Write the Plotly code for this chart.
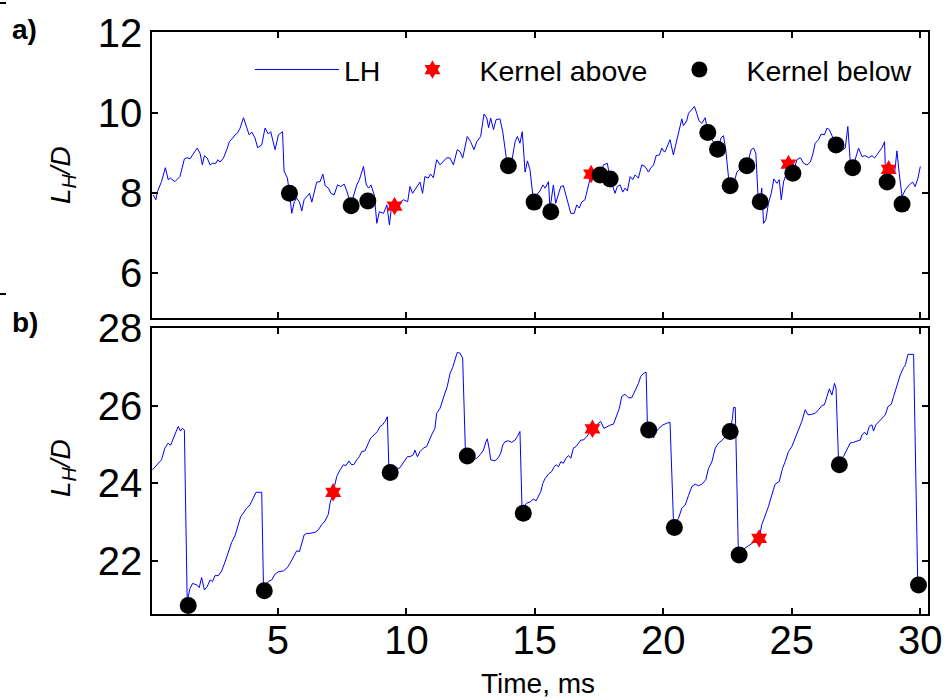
import plotly.graph_objects as go

# ---------------- data: panel a) ----------------
t_a = [0.15, 0.25, 0.31, 0.47, 0.62, 0.73, 0.82, 0.99, 1.19, 1.25, 1.36, 1.47, 1.58, 1.68, 1.86, 1.97,
       2.06, 2.14, 2.25, 2.36, 2.46, 2.59, 2.66, 2.75, 2.88, 3.01, 3.11, 3.24, 3.33, 3.42, 3.53, 3.66,
       3.76, 3.88, 3.98, 4.11, 4.21, 4.37, 4.50, 4.63, 4.72, 4.89, 5.02, 5.18, 5.24, 5.37, 5.45, 5.54,
       5.64, 5.73, 5.84, 5.93, 6.02, 6.12, 6.23, 6.32, 6.41, 6.51, 6.64, 6.75, 6.84, 6.97, 7.06, 7.19,
       7.32, 7.45, 7.58, 7.68, 7.84, 7.94, 8.07, 8.17, 8.33, 8.44, 8.53, 8.62, 8.75, 8.85, 8.95, 9.11,
       9.24, 9.34, 9.43, 9.54, 9.70, 9.89, 10.05, 10.14, 10.24, 10.33, 10.43, 10.53, 10.63, 10.72, 10.85,
       10.94, 11.05, 11.18, 11.31, 11.44, 11.57, 11.70, 11.83, 11.98, 12.09, 12.19, 12.28, 12.37, 12.50,
       12.63, 12.74, 12.89, 13.02, 13.13, 13.20, 13.28, 13.39, 13.49, 13.64, 13.75, 13.88, 13.97, 14.10,
       14.23, 14.32, 14.42, 14.51, 14.62, 14.71, 14.81, 14.92, 15.07, 15.20, 15.31, 15.40, 15.53, 15.59,
       15.72, 15.81, 15.92, 16.01, 16.11, 16.21, 16.31, 16.40, 16.53, 16.63, 16.73, 16.82, 16.95, 17.08,
       17.19, 17.28, 17.54, 17.67, 17.82, 17.90, 18.03, 18.12, 18.21, 18.32, 18.42, 18.51, 18.60, 18.71,
       18.81, 18.90, 19.03, 19.16, 19.29, 19.42, 19.51, 19.62, 19.72, 19.85, 19.94, 20.03, 20.07, 20.26,
       20.39, 20.49, 20.59, 20.72, 20.78, 20.91, 20.98, 21.11, 21.21, 21.30, 21.39, 21.50, 21.63, 21.73,
       21.86, 22.11, 22.25, 22.34, 22.43, 22.54, 22.60, 22.73, 22.86, 22.95, 23.25, 23.42, 23.51, 23.60,
       23.68, 23.77, 23.83, 23.90, 23.99, 24.09, 24.20, 24.30, 24.42, 24.51, 24.59, 24.68, 24.77, 24.87,
       25.04, 25.20, 25.33, 25.46, 25.59, 25.72, 25.81, 25.91, 26.04, 26.14, 26.27, 26.37, 26.46, 26.72,
       26.98, 27.08, 27.18, 27.27, 27.37, 27.49, 27.60, 27.73, 27.86, 27.99, 28.12, 28.22, 28.38, 28.51,
       28.61, 28.64, 28.77, 28.90, 29.00, 29.09, 29.18, 29.29, 29.42, 29.57, 29.70, 29.80, 29.91, 30.00]
lh_a = [7.95, 7.83, 8.03, 8.28, 8.63, 8.33, 8.37, 8.28, 8.41, 8.55, 8.85, 8.88, 8.85, 8.95, 9.12, 8.99,
        8.70, 8.93, 8.87, 8.70, 8.74, 8.74, 8.83, 8.77, 8.87, 9.08, 9.28, 9.37, 9.45, 9.49, 9.62, 9.88,
        9.66, 9.45, 9.52, 9.37, 9.13, 9.20, 9.62, 9.47, 9.53, 9.08, 9.45, 9.53, 8.55, 8.37, 7.99, 7.49,
        7.78, 7.87, 7.77, 7.55, 7.83, 7.91, 7.99, 7.77, 7.99, 8.27, 8.28, 8.47, 8.18, 8.12, 7.99, 7.95,
        8.20, 8.16, 8.22, 8.05, 7.70, 7.95, 8.20, 8.33, 8.66, 8.20, 8.12, 8.20, 7.95, 7.24, 7.53, 7.49,
        7.70, 7.20, 7.70, 7.67, 7.74, 7.83, 7.78, 8.16, 7.99, 8.08, 8.20, 8.27, 7.99, 8.41, 8.37,
        8.47, 8.38, 8.83, 8.70, 8.80, 8.88, 8.87, 8.70, 9.08, 9.03, 8.87, 9.16, 9.41, 9.28,
        9.08, 9.28, 9.41, 9.97, 9.87, 9.63, 9.87, 9.58, 9.83, 9.85, 9.53, 8.91, 8.68, 8.78,
        9.28, 9.41, 9.24, 9.53, 8.52, 8.80, 8.58, 7.95, 7.95, 8.05, 8.20, 8.12, 8.28, 7.60,
        8.20, 7.74, 7.99, 8.16, 8.18, 7.95, 7.70, 7.49, 7.49, 7.70, 7.62, 7.77, 7.83, 8.16,
        8.47, 8.49, 8.45, 8.70, 8.74, 8.45, 8.20, 7.99, 8.16, 8.20, 8.02, 8.12, 8.05, 8.41,
        8.33, 8.45, 8.37, 8.70, 8.66, 8.52, 8.62, 8.70, 8.93, 8.95, 9.12, 9.03, 9.03, 9.33,
        8.95, 9.20, 9.45, 9.85, 9.68, 9.80, 9.99, 10.08, 10.16, 9.99, 9.80, 9.74, 9.88, 9.51,
        9.37, 9.09, 9.38, 9.43, 9.08, 8.37, 8.18, 8.20, 8.52, 8.58, 8.68, 9.08, 9.12, 8.99,
        7.99, 7.78, 8.12, 7.24, 7.33, 7.74, 7.99, 8.35, 8.24, 8.33, 7.83, 8.28, 8.45, 8.72,
        8.49, 8.83, 8.88, 8.74, 8.70, 8.77, 8.95, 9.24, 9.33, 9.47, 9.45, 9.62, 9.58, 9.20,
        9.08, 9.12, 9.66, 8.83, 8.63, 8.91, 9.12, 8.91, 8.93, 8.88, 8.93, 8.87, 9.03, 9.13,
        9.28, 8.58, 8.59, 8.49, 8.49, 9.05, 8.49, 7.91, 8.08, 8.20, 8.27, 8.16, 8.37, 8.66]

above_t_a = [9.54, 17.19, 24.87, 28.77]
above_v_a = [7.67, 8.47, 8.72, 8.59]
below_t_a = [5.45, 7.85, 8.50, 13.97, 14.97, 15.62, 17.54, 17.93, 21.73, 22.11, 22.60, 23.25, 23.77,
             25.04, 26.72, 27.37, 28.71, 29.29]
below_v_a = [7.99, 7.68, 7.80, 8.68, 7.77, 7.53, 8.45, 8.35, 9.51, 9.09, 8.18, 8.68, 7.78,
             8.49, 9.20, 8.63, 8.27, 7.72]

# ---------------- data: panel b) ----------------
t_b = [0.12, 0.28, 0.47, 0.60, 0.73, 0.82, 0.93, 1.03, 1.12, 1.21, 1.28, 1.36, 1.47, 1.58, 1.68, 1.84,
       1.94, 2.03, 2.14, 2.25, 2.36, 2.46, 2.55, 2.68, 2.81, 2.94, 3.07, 3.20, 3.33, 3.46, 3.55, 3.65,
       3.78, 3.91, 4.04, 4.15, 4.37, 4.44, 4.63, 4.76, 4.89, 5.02, 5.21, 5.37, 5.50, 5.63, 5.73, 5.84,
       5.93, 6.02, 6.12, 6.25, 6.45, 6.57, 6.70, 6.83, 6.96, 7.03, 7.15, 7.22, 7.29, 7.42, 7.55, 7.65,
       7.76, 7.87, 7.96, 8.07, 8.17, 8.26, 8.39, 8.52, 8.61, 8.74, 8.87, 8.98, 9.07, 9.17, 9.26, 9.32,
       9.56, 9.73, 9.89, 10.04, 10.14, 10.27, 10.33, 10.43, 10.53, 10.66, 10.79, 10.89, 10.98, 11.11,
       11.18, 11.31, 11.40, 11.50, 11.59, 11.70, 11.80, 11.89, 11.98, 12.09, 12.19, 12.30, 12.45, 12.61,
       12.74, 12.87, 13.00, 13.10, 13.15, 13.23, 13.28, 13.45, 13.58, 13.67, 13.75, 13.84, 13.97, 14.10,
       14.23, 14.32, 14.42, 14.50, 14.68, 14.84, 14.94, 15.05, 15.14, 15.23, 15.31, 15.40, 15.53, 15.66,
       15.75, 15.83, 15.92, 16.01, 16.11, 16.21, 16.31, 16.40, 16.50, 16.60, 16.70, 16.79, 16.89, 17.02,
       17.24, 17.41, 17.56, 17.69, 17.82, 17.95, 18.06, 18.12, 18.21, 18.29, 18.38, 18.51, 18.64, 18.77,
       18.90, 19.03, 19.12, 19.23, 19.33, 19.38, 19.62, 19.68, 19.81, 19.98, 20.13, 20.26, 20.40, 20.59,
       20.72, 20.85, 20.98, 21.11, 21.24, 21.37, 21.50, 21.65, 21.76, 21.89, 22.02, 22.15, 22.30, 22.47,
       22.60, 22.69, 22.73, 22.80, 22.92, 23.73, 23.83, 23.96, 24.09, 24.22, 24.35, 24.51, 24.64, 24.74,
       24.87, 25.00, 25.13, 25.26, 25.39, 25.52, 25.63, 25.76, 25.91, 26.04, 26.17, 26.27, 26.37, 26.46,
       26.56, 26.66, 26.72, 26.82, 27.01, 27.14, 27.27, 27.40, 27.53, 27.66, 27.73, 27.83, 27.92, 28.01,
       28.12, 28.18, 28.27, 28.40, 28.51, 28.64, 28.74, 28.87, 28.96, 29.09, 29.22, 29.35, 29.42, 29.52,
       29.74, 29.90]
lh_b = [24.34, 24.47, 24.60, 24.90, 25.03, 24.97, 25.16, 25.28, 25.46, 25.34, 25.41, 25.37, 20.95, 21.28,
        21.41, 21.37, 21.30, 21.56, 21.24, 21.33, 21.50, 21.46, 21.61, 21.61, 21.73, 21.96, 22.23, 22.47,
        22.64, 22.92, 23.13, 23.22, 23.35, 23.43, 23.61, 23.76, 23.76, 21.25, 21.46, 21.50, 21.65, 21.71,
        21.73, 21.82, 21.96, 22.14, 22.25, 22.23, 22.42, 22.66, 22.70, 22.70, 22.73, 22.79, 22.92, 23.02,
        23.19, 23.48, 23.76, 23.95, 24.17, 24.34, 24.47, 24.45, 24.57, 24.47, 24.48, 24.60, 24.68, 24.81,
        24.83, 25.03, 25.16, 25.24, 25.33, 25.46, 25.50, 25.59, 25.71, 24.35, 24.38, 24.38, 24.55, 24.68,
        24.68, 24.73, 24.85, 24.68, 24.81, 24.90, 24.94, 25.11, 25.24, 25.41, 25.80, 25.93, 26.14, 26.32,
        26.49, 26.83, 26.98, 27.18, 27.37, 27.35, 27.22, 24.75, 24.62, 24.60, 24.64, 24.73, 24.85, 25.07,
        25.14, 24.85, 24.60, 24.57, 24.66, 24.77, 24.98, 25.07, 25.09, 25.05, 25.11, 25.20, 25.33, 23.35,
        23.48, 23.52, 23.59, 23.54, 23.65, 23.78, 23.99, 24.12, 24.23, 24.30, 24.42, 24.47, 24.42, 24.55,
        24.51, 24.64, 24.71, 24.64, 24.90, 24.94, 25.03, 25.11, 25.11, 25.20, 25.40, 25.50, 25.59, 25.41,
        25.46, 25.50, 25.52, 25.63, 25.76, 25.93, 26.23, 26.29, 26.20, 26.20, 26.38, 26.57, 26.75, 26.83,
        26.86, 25.50, 25.16, 25.28, 25.40, 25.50, 25.54, 25.57, 22.90, 23.09, 23.35, 23.43, 23.68, 23.91,
        23.97, 23.93, 23.97, 24.08, 24.38, 24.55, 24.90, 25.03, 25.11, 25.24, 25.37, 25.67, 25.95, 25.95,
        22.20, 22.57, 22.92, 23.13, 23.39, 23.69, 23.97, 24.04, 24.38, 24.55, 24.81, 24.94, 25.16, 25.33,
        25.59, 25.89, 25.76, 25.77, 25.80, 25.89, 26.00, 26.02, 26.23, 26.43, 26.27, 26.57, 26.45, 24.55,
        24.68, 24.85, 25.03, 25.05, 25.09, 25.11, 25.24, 25.31, 25.24, 25.46, 25.50, 25.34, 25.50, 25.59,
        25.69, 25.76, 25.97, 26.03, 26.23, 26.53, 26.79, 26.98, 27.05, 27.32, 27.32, 21.45]

above_t_b = [7.15, 17.24, 23.73]
above_v_b = [23.76, 25.40, 22.57]
below_t_b = [1.51, 4.47, 9.37, 12.37, 14.55, 19.43, 20.43, 22.60, 22.95, 26.85, 29.93]
below_v_b = [20.84, 21.22, 24.27, 24.70, 23.22, 25.37, 22.85, 25.33, 22.14, 24.47, 21.37]

x_ticks = [5, 10, 15, 20, 25, 30]
y_ticks_a = [6, 8, 10, 12]
y_ticks_b = [22, 24, 26, 28]

W, H = 944, 700
FONT = "Liberation Sans, Arial, sans-serif"
BLUE = "#0000FF"

fig = go.Figure()
star = dict(symbol="hexagram", size=14, color="#FF0000", line=dict(width=0))
dot = dict(symbol="circle", size=17, color="black", line=dict(width=0))

fig.add_trace(go.Scatter(x=t_a, y=lh_a, mode="lines", name="LH", line=dict(color=BLUE, width=1),
                         xaxis="x", yaxis="y", legendgroup="lh"))
fig.add_trace(go.Scatter(x=above_t_a, y=above_v_a, mode="markers", name="Kernel above", marker=star,
                         xaxis="x", yaxis="y", legendgroup="ab"))
fig.add_trace(go.Scatter(x=below_t_a, y=below_v_a, mode="markers", name="Kernel below", marker=dot,
                         xaxis="x", yaxis="y", legendgroup="be"))
fig.add_trace(go.Scatter(x=t_b, y=lh_b, mode="lines", name="LH", line=dict(color=BLUE, width=1),
                         xaxis="x2", yaxis="y2", legendgroup="lh", showlegend=False))
fig.add_trace(go.Scatter(x=above_t_b, y=above_v_b, mode="markers", name="Kernel above", marker=star,
                         xaxis="x2", yaxis="y2", legendgroup="ab", showlegend=False))
fig.add_trace(go.Scatter(x=below_t_b, y=below_v_b, mode="markers", name="Kernel below", marker=dot,
                         xaxis="x2", yaxis="y2", legendgroup="be", showlegend=False))

xdom = [152 / W, 928 / W]
axis_common = dict(showline=True, linecolor="black", linewidth=1.5, mirror="ticks", ticks="inside",
                   ticklen=6, tickwidth=1.5, tickcolor="black", showgrid=False, zeroline=False,
                   automargin=False,
                   tickfont=dict(family=FONT, size=40, color="black"))

fig.update_layout(
    template="none",
    width=W, height=H,
    margin=dict(l=0, r=0, t=0, b=0, autoexpand=False),
    paper_bgcolor="white", plot_bgcolor="white",
    font=dict(family=FONT, color="black"),
    xaxis=dict(domain=xdom, anchor="y", range=[0.1, 30.3], tickvals=x_ticks, showticklabels=False,
               **axis_common),
    yaxis=dict(domain=[1 - 318 / H, 1 - 32 / H], anchor="x", range=[4.875, 12.02], tickvals=y_ticks_a,
               **axis_common),
    xaxis2=dict(domain=xdom, anchor="y2", range=[0.1, 30.3], tickvals=x_ticks, ticklabelstandoff=-10,
                **axis_common),
    yaxis2=dict(domain=[1 - 614 / H, 1 - 328 / H], anchor="x2", range=[20.62, 28.0], tickvals=y_ticks_b,
                **axis_common),
    legend=dict(orientation="h", x=250 / W, xanchor="left", y=1 - 70 / H, yanchor="middle",
                bgcolor="rgba(0,0,0,0)", borderwidth=0, font=dict(family=FONT, size=28.5, color="black"),
                itemwidth=84, tracegroupgap=0),
    showlegend=True,
)

ann = [
    dict(text="<b>a)</b>", x=10 / W, y=1 - 30 / H, xanchor="left", yanchor="middle",
         font=dict(family=FONT, size=28, color="black")),
    dict(text="<b>b)</b>", x=10 / W, y=1 - 322 / H, xanchor="left", yanchor="middle",
         font=dict(family=FONT, size=28, color="black")),
    dict(text="<i>L<sub>H</sub>/D</i>", x=62 / W, y=1 - 175 / H, xanchor="center", yanchor="middle",
         textangle=-90, font=dict(family=FONT, size=28, color="black")),
    dict(text="<i>L<sub>H</sub>/D</i>", x=62 / W, y=1 - 468 / H, xanchor="center", yanchor="middle",
         textangle=-90, font=dict(family=FONT, size=28, color="black")),
    dict(text="Time, ms", x=538 / W, y=1 - 683 / H, xanchor="center", yanchor="middle",
         font=dict(family=FONT, size=28, color="black")),
]
for a in ann:
    a.update(xref="paper", yref="paper", showarrow=False)
fig.update_layout(annotations=ann)

fig.update_layout(shapes=[
    dict(type="line", xref="paper", yref="paper", x0=0, x1=6 / W, y0=1 - 3 / H, y1=1 - 3 / H,
         line=dict(color="black", width=2)),
    dict(type="line", xref="paper", yref="paper", x0=0, x1=6 / W, y0=1 - 294 / H, y1=1 - 294 / H,
         line=dict(color="black", width=2)),
])

fig.write_html("out.html")
